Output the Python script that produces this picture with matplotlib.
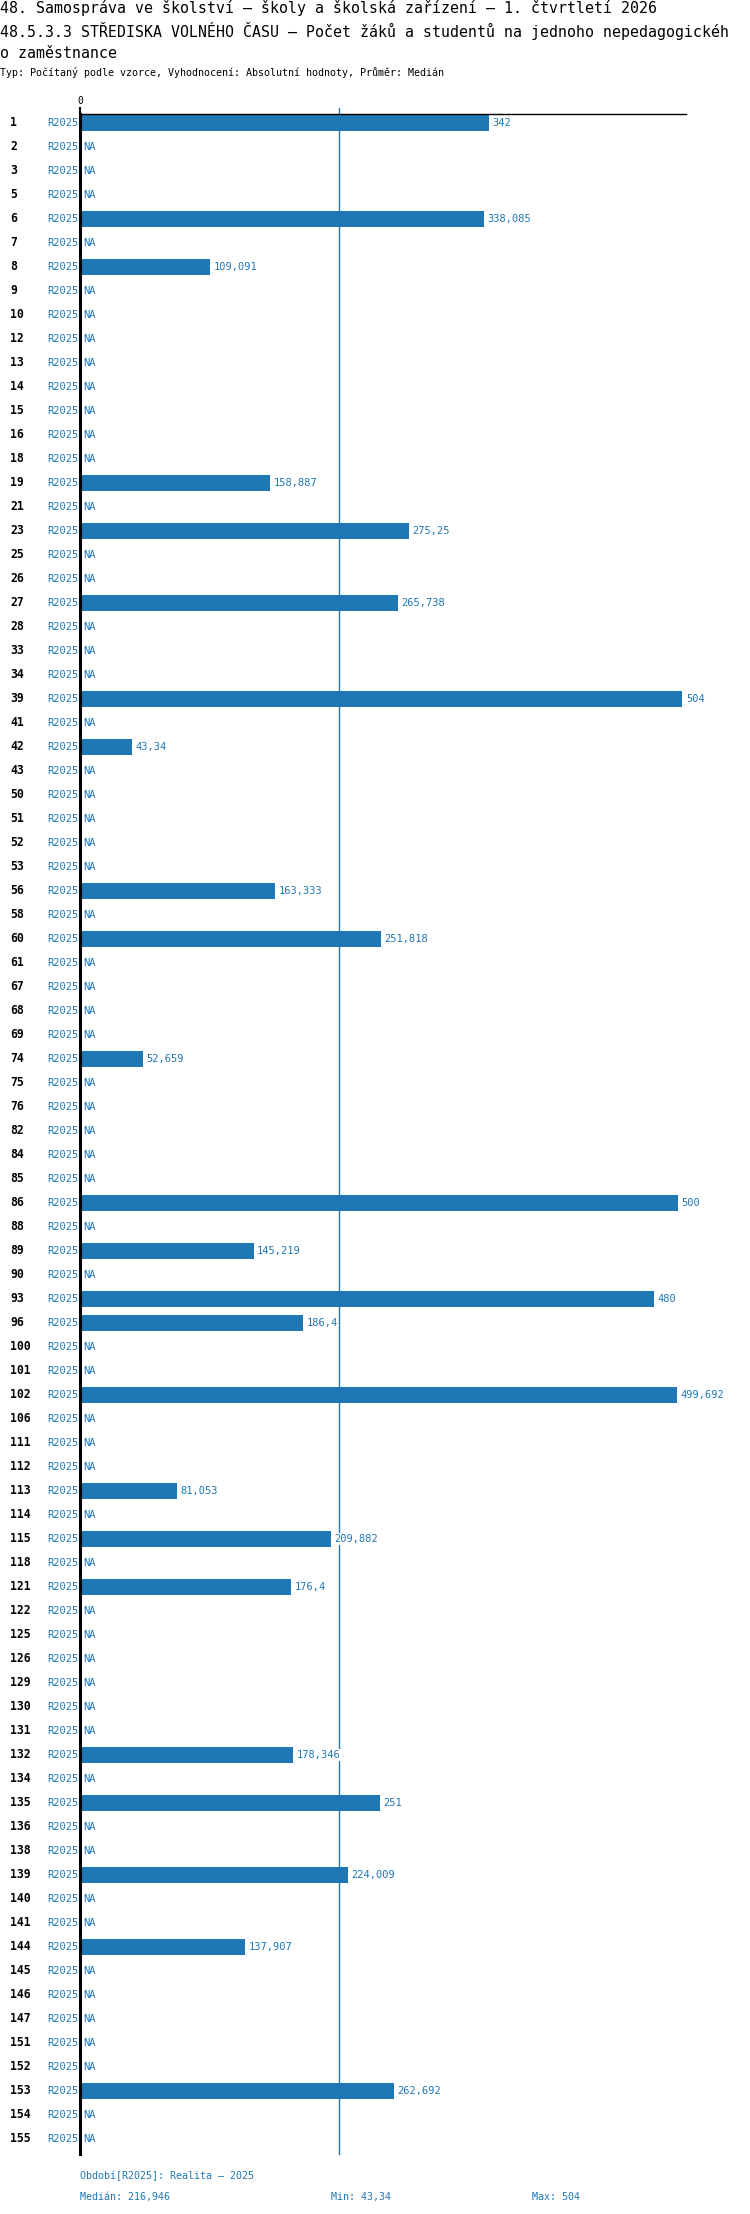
import numpy as np
import matplotlib
matplotlib.use("Agg")
import matplotlib.pyplot as plt
from matplotlib.transforms import blended_transform_factory

plt.rcParams['font.family'] = ['DejaVu Sans Mono', 'DejaVu Sans']

# ---------------- data ----------------
row_ids = [1, 2, 3, 5, 6, 7, 8, 9, 10, 12, 13, 14, 15, 16, 18, 19, 21, 23, 25, 26,
           27, 28, 33, 34, 39, 41, 42, 43, 50, 51, 52, 53, 56, 58, 60, 61, 67, 68, 69,
           74, 75, 76, 82, 84, 85, 86, 88, 89, 90, 93, 96, 100, 101, 102, 106, 111,
           112, 113, 114, 115, 118, 121, 122, 125, 126, 129, 130, 131, 132, 134, 135,
           136, 138, 139, 140, 141, 144, 145, 146, 147, 151, 152, 153, 154, 155]
known_values = {1: 342, 6: 338.085, 8: 109.091, 19: 158.887, 23: 275.25, 27: 265.738,
                39: 504, 42: 43.34, 56: 163.333, 60: 251.818, 74: 52.659, 86: 500,
                89: 145.219, 93: 480, 96: 186.4, 102: 499.692, 113: 81.053,
                115: 209.882, 121: 176.4, 132: 178.346, 135: 251, 139: 224.009,
                144: 137.907, 153: 262.692}
values = [known_values.get(r, np.nan) for r in row_ids]
period_label = "R2025"
median_value = 216.946
min_value = 43.34
max_value = 504
x_max = 507

title_lines = ["48. Samospráva ve školství – školy a školská zařízení – 1. čtvrtletí 2026",
               "48.5.3.3 STŘEDISKA VOLNÉHO ČASU – Počet žáků a studentů na jednoho nepedagogickéh",
               "o zaměstnance"]
subtitle = "Typ: Počítaný podle vzorce, Vyhodnocení: Absolutní hodnoty, Průměr: Medián"
footer_period = "Období[R2025]: Realita – 2025"


def fmt(v):
    return f"{v:g}".replace(".", ",")


# ---------------- layout ----------------
W, H = 750, 2214
BLUE = "#1f77b4"
fig = plt.figure(figsize=(W / 100, H / 100), dpi=100)


def fy(px):
    return 1 - px / H


ax_left, ax_right = 80, 686
ax_top, ax_bot = 114, 2154
ax = fig.add_axes([ax_left / W, fy(ax_bot), (ax_right - ax_left) / W, (ax_bot - ax_top) / H])

n = len(row_ids)
ypos = np.arange(n)
vals = np.array(values, dtype=float)
has = ~np.isnan(vals)

ax.barh(ypos[has], vals[has], height=0.667, color=BLUE, zorder=2)
ax.set_xlim(0, x_max)
ax.set_ylim(n - 1 + 0.625, -0.375)

for s in ["right", "bottom"]:
    ax.spines[s].set_visible(False)
ax.spines["top"].set_linewidth(1.0)
ax.spines["left"].set_linewidth(2.2)
ax.spines["left"].set_zorder(5)
ax.xaxis.tick_top()
ax.set_xticks([0])
ax.set_xticklabels(["0"], fontsize=7)
ax.tick_params(axis="x", length=5, width=1.5, pad=1, color="black")
ax.set_yticks([])

ax.axvline(median_value, color=BLUE, lw=1.0, zorder=1, ymax=1.003, clip_on=False)

trans = blended_transform_factory(fig.transFigure, ax.transData)
for i, (r, v) in enumerate(zip(row_ids, values)):
    ax.text(10 / W, i, str(r), transform=trans, ha="left", va="center",
            fontsize=8.3, fontweight="bold", color="black")
    ax.text(78 / W, i, period_label, transform=trans, ha="right", va="center",
            fontsize=7.5, color=BLUE)
    if np.isnan(v):
        ax.annotate("NA", (0, i), xytext=(2.5, 0), textcoords="offset points",
                    ha="left", va="center", fontsize=7.5, color=BLUE, zorder=4)
    else:
        ax.annotate(fmt(v), (v, i), xytext=(2.5, 0), textcoords="offset points",
                    ha="left", va="center", fontsize=7.5, color=BLUE, zorder=4,
                    bbox=dict(facecolor="white", edgecolor="none", pad=0.6))

# titles
for txt, y in zip(title_lines, [8, 31, 53]):
    fig.text(0.5 / W, fy(y), txt, ha="left", va="center", fontsize=10.7, color="black")
fig.text(0.5 / W, fy(73), subtitle, ha="left", va="center", fontsize=7.2, color="black")

# footer
fig.text(80 / W, fy(2176), footer_period, ha="left", va="center", fontsize=7.2, color=BLUE)
fig.text(80 / W, fy(2197), "Medián: " + fmt(median_value), ha="left", va="center", fontsize=7.2, color=BLUE)
fig.text(331 / W, fy(2197), "Min: " + fmt(min_value), ha="left", va="center", fontsize=7.2, color=BLUE)
fig.text(532 / W, fy(2197), "Max: " + fmt(max_value), ha="left", va="center", fontsize=7.2, color=BLUE)

fig.savefig("out.png", dpi=100, facecolor="white")
